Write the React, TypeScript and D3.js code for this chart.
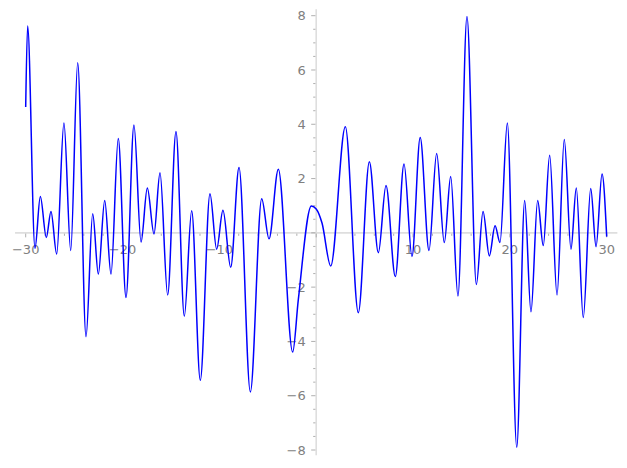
import React from "react";
import * as d3 from "d3";

// Local extrema (and a few shape points)
const xs: number[] = [
  -30, -29.8, -29.04, -28.49, -27.87, -27.39, -26.8, -26.05, -25.35, -24.63,
  -23.77, -23.08, -22.5, -21.84, -21.19, -20.44, -19.64, -18.82, -18.09, -17.44,
  -16.75, -16.13, -15.34, -14.48, -13.62, -12.86, -11.97, -10.97, -10.28, -9.63,
  -8.83, -7.97, -6.8, -5.63, -4.87, -3.91, -2.43, -1.85, -0.5, 0.0, 0.6,
  1.5, 3.01, 4.35, 5.49, 6.42, 7.21, 8.17, 9.07, 9.89, 10.74,
  11.65, 12.44, 13.23, 13.89, 14.64, 15.57, 16.54, 17.23, 17.88, 18.47,
  18.98, 19.74, 20.71, 21.53, 22.18, 22.87, 23.45, 24.11, 24.87, 25.62,
  26.31, 26.86, 27.58, 28.35, 28.9, 29.52, 30,
];
const ys: number[] = [
  4.64, 7.62, -0.57, 1.34, -0.17, 0.79, -0.78, 4.05, -0.65, 6.27,
  -3.83, 0.7, -1.52, 1.19, -1.52, 3.48, -2.38, 3.97, -0.34, 1.65,
  -0.04, 2.21, -2.29, 3.73, -3.07, 0.81, -5.43, 1.44, -0.6, 0.83,
  -1.27, 2.41, -5.86, 1.26, -0.22, 2.34, -4.39, -2.47, 0.99, 0.88, 0.36,
  -1.22, 3.91, -2.94, 2.62, -0.73, 1.74, -1.61, 2.54, -0.87, 3.51,
  -0.65, 2.92, -0.36, 2.08, -2.33, 7.97, -1.9, 0.79, -0.85, 0.26,
  -0.36, 4.05, -7.9, 1.19, -2.91, 1.19, -0.47, 2.86, -2.29, 3.44,
  -0.6, 1.65, -3.12, 1.63, -0.51, 2.17, -0.14,
];

const xMajorTicks: number[] = [-30, -20, -10, 10, 20, 30];
const xMajorLabels: string[] = ["−30", "−20", "−10", "10", "20", "30"];
const yMajorTicks: number[] = [-8, -6, -4, -2, 2, 4, 6, 8];
const yMajorLabels: string[] = ["−8", "−6", "−4", "−2", "2", "4", "6", "8"];

const W = 627;
const H = 468;

export default function App() {
  const x = d3.scaleLinear().domain([-30, 30]).range([25.7, 606.7]);
  const y = d3.scaleLinear().domain([-8, 8]).range([450, 15.7]);

  const pts: [number, number][] = xs.map((v, i) => [v, ys[i]]);
  const line = d3
    .line<[number, number]>()
    .x((d) => x(d[0]))
    .y((d) => y(d[1]))
    .curve(d3.curveMonotoneX);

  const xMinor = d3.range(-30, 30.001, 2).filter((v) => Math.abs(v % 10) > 1e-6);
  const yMinor = d3.range(-8, 8.001, 0.5).filter((v) => Math.abs(v % 2) > 1e-6);

  const x0 = x(0);
  const y0 = y(0);
  const axisColor = "#dedede";
  const tickColor = "#9a9a9a";
  const labelColor = "#808080";
  const font = "'DejaVu Sans', sans-serif";

  return (
    <svg
      width={W}
      height={H}
      style={{ position: "fixed", left: 0, top: 0, background: "#fff" }}
    >
      {/* axis lines */}
      <line x1={x(-31.1)} x2={x(31.1)} y1={y0} y2={y0} stroke={axisColor} strokeWidth={1.6} />
      <line x1={x0} x2={x0} y1={y(8.24)} y2={y(-8.19)} stroke={axisColor} strokeWidth={1.6} />

      {/* x ticks */}
      {xMinor.map((v) => (
        <line key={"xm" + v} x1={x(v)} x2={x(v)} y1={y0 + 0.8} y2={y0 + 3} stroke={tickColor} strokeWidth={0.8} />
      ))}
      {[0, ...xMajorTicks].map((v) => (
        <line key={"xM" + v} x1={x(v)} x2={x(v)} y1={y0 + 0.8} y2={y0 + 4.5} stroke={tickColor} strokeWidth={0.8} />
      ))}
      {xMajorTicks.map((v, i) => (
        <text
          key={"xl" + v}
          x={x(v)}
          y={y0 + 21.5}
          textAnchor="middle"
          fontFamily={font}
          fontSize={13}
          fill={labelColor}
        >
          {xMajorLabels[i]}
        </text>
      ))}

      {/* y ticks */}
      {yMinor.map((v) => (
        <line key={"ym" + v} x1={x0 - 0.8} x2={x0 - 3} y1={y(v)} y2={y(v)} stroke={tickColor} strokeWidth={0.8} />
      ))}
      {[0, ...yMajorTicks].map((v) => (
        <line key={"yM" + v} x1={x0 - 0.8} x2={x0 - 5} y1={y(v)} y2={y(v)} stroke={tickColor} strokeWidth={0.8} />
      ))}
      {yMajorTicks.map((v, i) => (
        <text
          key={"yl" + v}
          x={x0 - 10.5}
          y={y(v) + 4.7}
          textAnchor="end"
          fontFamily={font}
          fontSize={13}
          fill={labelColor}
        >
          {yMajorLabels[i]}
        </text>
      ))}

      {/* curve */}
      <path d={line(pts) || ""} fill="none" stroke="#0000ff" strokeWidth={1.5} strokeLinejoin="round" />
    </svg>
  );
}
